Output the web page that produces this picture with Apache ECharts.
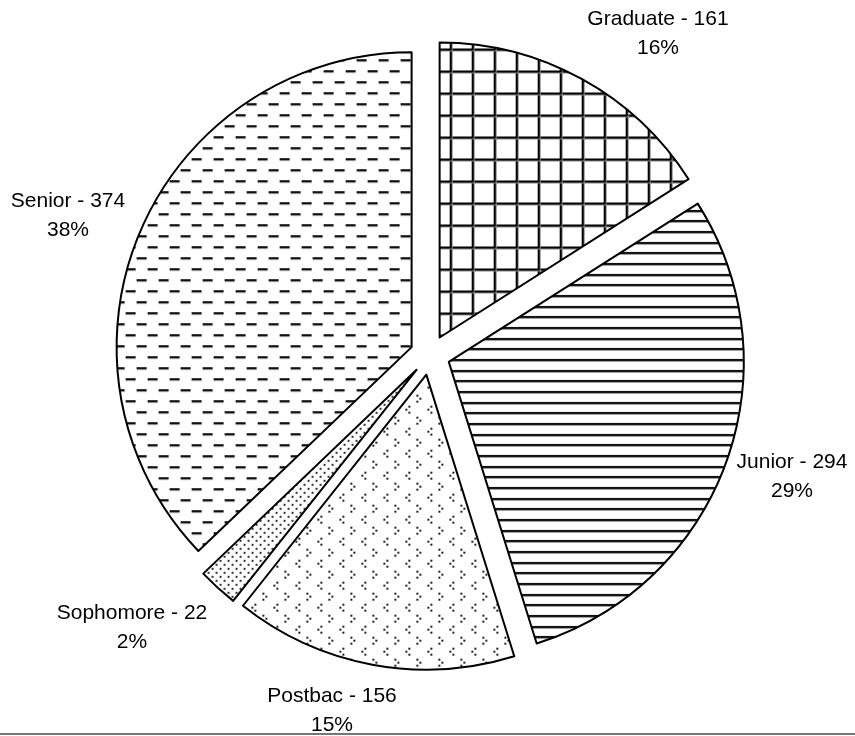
<!DOCTYPE html>
<html>
<head>
<meta charset="utf-8">
<script src="https://cdn.jsdelivr.net/npm/echarts@6/dist/echarts.min.js"></script>
<style>
html,body{margin:0;padding:0;background:#fff;}
#chart{width:855px;height:736px;}
</style>
</head>
<body>
<div id="chart"></div>
<script>
// ---- data ----
const categories = ['Graduate', 'Junior', 'Postbac', 'Sophomore', 'Senior'];
const values = [161, 294, 156, 22, 374];
const percentLabels = ['16%', '29%', '15%', '2%', '38%'];

// ---- layout (label centres) ----
const labelCenters = [[658, 34], [792, 477], [332, 711], [132, 628], [68, 216]];

function makeTile(w, h, draw) {
  const c = document.createElement('canvas');
  c.width = w; c.height = h;
  const ctx = c.getContext('2d');
  ctx.fillStyle = '#fff';
  ctx.fillRect(0, 0, w, h);
  draw(ctx);
  return c;
}
// Graduate: grid
const gridTile = makeTile(22, 22, ctx => {
  ctx.fillStyle = '#000';
  ctx.fillRect(0, 0, 22, 2);
  ctx.fillRect(0, 0, 2, 22);
  ctx.fillStyle = '#888';
  ctx.fillRect(0, 2, 22, 1);
  ctx.fillRect(2, 0, 1, 22);
});
// Junior: horizontal lines
const hLineTile = makeTile(8, 32, ctx => {
  ctx.fillStyle = '#111';
  ctx.fillRect(0, 0, 8, 2);
  ctx.fillRect(0, 11, 8, 2);
  ctx.fillRect(0, 21, 8, 2);
  ctx.fillStyle = '#999';
  ctx.fillRect(0, 2, 8, 1);
  ctx.fillRect(0, 13, 8, 1);
  ctx.fillRect(0, 23, 8, 1);
});
// Postbac: chevrons of dots
const chevTile = makeTile(22, 22, ctx => {
  ctx.fillStyle = '#222';
  function dot(x, y) { ctx.fillRect(x, y, 2, 2); }
  dot(2, 1); dot(5, 4); dot(2, 7);
  dot(16, 12); dot(13, 15); dot(16, 18);
});
// Sophomore: small dots
const dotTile = makeTile(8, 8, ctx => {
  ctx.fillStyle = '#333';
  ctx.fillRect(1, 1, 2, 2);
  ctx.fillRect(5, 5, 2, 2);
});
// Senior: dashes
const dashTile = makeTile(22, 22, ctx => {
  ctx.fillStyle = '#111';
  ctx.fillRect(1, 1, 10, 2);
  ctx.fillRect(12, 12, 10, 2);
  ctx.fillStyle = '#aaa';
  ctx.fillRect(1, 3, 10, 1);
  ctx.fillRect(12, 14, 10, 1);
});
const patterns = [gridTile, hLineTile, chevTile, dotTile, dashTile];

const seriesData = categories.map((name, i) => {
  const style = {
    color: { image: patterns[i], repeat: 'repeat' },
    borderColor: '#000',
    borderWidth: 2
  };
  return {
    name: name,
    value: values[i],
    selected: true,
    itemStyle: style,
    select: { itemStyle: style },
    emphasis: { itemStyle: style }
  };
});

const labelGraphics = categories.map((name, i) => ({
  type: 'text',
  x: labelCenters[i][0],
  y: labelCenters[i][1],
  silent: true,
  style: {
    text: name + ' - ' + values[i] + '\n' + percentLabels[i],
    fill: '#000',
    font: '21px "Liberation Sans", Arial, sans-serif',
    lineHeight: 29,
    align: 'center',
    verticalAlign: 'middle'
  }
}));

const chart = echarts.init(document.getElementById('chart'), null, { renderer: 'canvas' });
chart.setOption({
  animation: false,
  backgroundColor: '#fff',
  graphic: [{
    type: 'rect',
    shape: { x: 0, y: 733, width: 855, height: 2 },
    style: { fill: '#777' },
    silent: true
  }].concat(labelGraphics),
  series: [{
    type: 'pie',
    center: [430, 355],
    radius: [0, 295],
    startAngle: 90,
    clockwise: true,
    selectedMode: 'multiple',
    selectedOffset: 20,
    emphasis: { disabled: true, scale: false },
    label: { show: false },
    labelLine: { show: false },
    data: seriesData
  }]
});
</script>
</body>
</html>
